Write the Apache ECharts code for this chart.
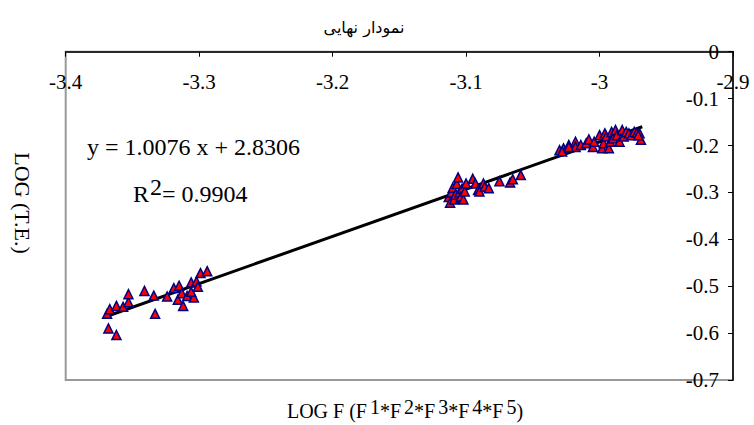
<!DOCTYPE html>
<html><head><meta charset="utf-8">
<script src="https://cdn.jsdelivr.net/npm/echarts/dist/echarts.min.js"></script>
<style>html,body{margin:0;padding:0;background:#fff}#c{width:754px;height:425px}</style>
</head><body><div id="c"></div>
<script>
// observed points: LOG F (x) and LOG (T.E.) (y)
const logF = [
 -3.369,-3.367,-3.368,-3.362,-3.362,-3.357,-3.353,-3.353,-3.341,-3.334,-3.333,-3.324,-3.319,-3.315,-3.316,-3.312,-3.313,-3.309,-3.306,-3.304,-3.306,-3.302,-3.301,-3.299,-3.294,
 -3.113,-3.112,-3.111,-3.110,-3.109,-3.108,-3.107,-3.106,-3.105,-3.104,-3.103,-3.104,-3.102,-3.101,-3.100,-3.095,-3.093,-3.091,-3.090,-3.087,-3.086,-3.083,-3.075,-3.067,-3.065,-3.059,
 -3.030,-3.027,-3.023,-3.018,-3.018,-3.014,-3.010,-3.008,-3.005,-3.004,-3.000,-2.998,-2.997,-2.996,-2.995,-2.993,-2.992,-2.991,-2.990,-2.988,-2.987,-2.985,-2.983,-2.982,-2.980,-2.978,-2.976,-2.974,-2.972,-2.970,-2.969,-2.971,-3.028,-3.023
];
const logTE = [
 -0.559,-0.549,-0.590,-0.604,-0.542,-0.544,-0.534,-0.517,-0.510,-0.520,-0.559,-0.522,-0.504,-0.499,-0.529,-0.542,-0.515,-0.521,-0.492,-0.524,-0.512,-0.490,-0.501,-0.472,-0.468,
 -0.310,-0.322,-0.300,-0.290,-0.315,-0.305,-0.282,-0.268,-0.300,-0.312,-0.292,-0.309,-0.315,-0.298,-0.281,-0.271,-0.281,-0.295,-0.298,-0.281,-0.288,-0.291,-0.276,-0.279,-0.272,-0.263,
 -0.210,-0.206,-0.199,-0.192,-0.203,-0.199,-0.195,-0.187,-0.203,-0.192,-0.178,-0.206,-0.195,-0.174,-0.181,-0.206,-0.192,-0.171,-0.185,-0.167,-0.178,-0.192,-0.167,-0.181,-0.171,-0.174,-0.178,-0.171,-0.173,-0.174,-0.188,-0.178,-0.213,-0.203
];
// trend line end points
const trendX = [-3.369, -2.968];
const trendY = [-0.564, -0.160];
// tick labels
const xTickLabels = ['-3.4','-3.3','-3.2','-3.1','-3','-2.9'];
const yTickLabels = ['-0.7','-0.6','-0.5','-0.4','-0.3','-0.2','-0.1','0'];
const titleText = 'نمودار نهایی';
const eqText = 'y = 1.0076 x + 2.8306';
const r2Value = '0.9904';

const chart = echarts.init(document.getElementById('c'), null, {renderer: 'svg'});
const serif = "'Liberation Serif', 'Times New Roman', serif";
const pts = logF.map((x, i) => [x, logTE[i]]);
const tr = trendX.map((x, i) => [x, trendY[i]]);
const xMin = -3.4, xInt = 0.1, yMin = -0.7, yInt = 0.1;

chart.setOption({
  animation: false,
  backgroundColor: '#fff',
  textStyle: {fontFamily: serif},
  grid: {left: 65.7, right: 21, top: 51.7, bottom: 45, show: true, borderColor: '#999', borderWidth: 2},
  xAxis: {
    type: 'value', position: 'top', min: xMin, max: -2.9, interval: xInt,
    axisLine: {show: true, onZero: false, lineStyle: {color: '#000', width: 1.5}},
    axisTick: {show: true, inside: true, length: 5, lineStyle: {color: '#000', width: 1}},
    splitLine: {show: false},
    axisLabel: {inside: true, margin: 20, color: '#000', fontFamily: serif, fontSize: 21,
      formatter: v => xTickLabels[Math.round((v - xMin) / xInt)]}
  },
  yAxis: {
    type: 'value', position: 'right', min: yMin, max: 0, interval: yInt,
    axisLine: {show: true, onZero: false, lineStyle: {color: '#000', width: 1.5}},
    axisTick: {show: true, inside: true, length: 5, lineStyle: {color: '#000', width: 1}},
    splitLine: {show: false},
    axisLabel: {inside: true, margin: 14, color: '#000', fontFamily: serif, fontSize: 21,
      formatter: v => yTickLabels[Math.round((v - yMin) / yInt)]}
  },
  series: [
    {type: 'line', data: tr, symbol: 'none', lineStyle: {color: '#000', width: 3}, z: 2},
    {type: 'scatter', data: pts, symbol: 'triangle', symbolSize: 9,
     itemStyle: {color: '#ff0000', borderColor: '#000080', borderWidth: 1.5, opacity: 1}, z: 3}
  ],
  graphic: [
    {type: 'text', x: 364, y: 27, style: {text: titleText, fontFamily: "'DejaVu Sans', sans-serif", fontSize: 16, fill: '#000', align: 'center', verticalAlign: 'middle'}},
    {type: 'text', x: 22, y: 203, rotation: -Math.PI / 2, style: {text: 'LOG (T.E.)', fontFamily: serif, fontSize: 22, fill: '#000', align: 'center', verticalAlign: 'middle'}},
    {type: 'text', x: 405, y: 411, style: {
      text: '{n|LOG F (F}{s|1}{n|*F}{s|2}{n|*F}{s|3}{n|*F}{s|4}{n|*F}{s|5}{n|)}',
      align: 'center', verticalAlign: 'middle',
      rich: {n: {fontFamily: serif, fontSize: 20, fill: '#000'}, s: {fontFamily: serif, fontSize: 20, fill: '#000', padding: [0, 0, 8, 3]}}
    }},
    {type: 'text', x: 87, y: 147, style: {text: eqText, fontFamily: serif, fontSize: 24, fill: '#000', align: 'left', verticalAlign: 'middle'}},
    {type: 'text', x: 133, y: 194, style: {
      text: '{n|R}{s|2}{n|= ' + r2Value + '}', align: 'left', verticalAlign: 'middle',
      rich: {n: {fontFamily: serif, fontSize: 24, fill: '#000'}, s: {fontFamily: serif, fontSize: 24, fill: '#000', padding: [0, 0, 14, 1]}}
    }}
  ]
});
</script>
</body></html>
